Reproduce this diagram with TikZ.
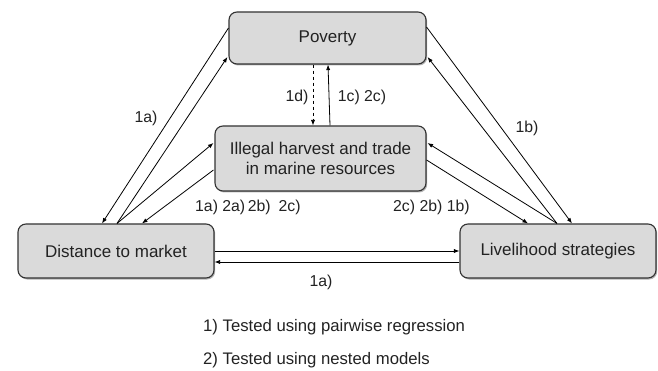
\documentclass[tikz,border=0pt]{standalone}
\usepackage{fontspec}
\setmainfont{Liberation Sans}
\usetikzlibrary{arrows.meta,calc,shadows}
\definecolor{boxfill}{HTML}{DADADA}
\definecolor{boxline}{HTML}{333333}
\definecolor{txt}{HTML}{222222}
\begin{document}
\begin{tikzpicture}[x=1pt,y=-1pt,
  box/.style={draw=boxline,line width=1.1pt,fill=boxfill,rounded corners=8pt,
    inner sep=0pt,align=center,text=txt,font=\fontsize{17}{19.5}\selectfont,
    drop shadow={shadow xshift=1.2pt,shadow yshift=-1.5pt,opacity=0.3,fill=black}},
  conn/.style={line width=0.8pt,-{Latex[length=5.5pt,width=4.2pt]}},
  lbl/.style={inner sep=0pt,text=txt,font=\fontsize{15.8}{18}\selectfont},
  leg/.style={inner sep=0pt,anchor=west,text=txt,font=\fontsize{16.7}{19}\selectfont}]
\useasboundingbox (0,0) rectangle (658,371);
\node[box,minimum width=197pt,minimum height=52pt] (pov) at (327.5,38) {Poverty};
\node[box,minimum width=211pt,minimum height=65pt] (ill) at (320.5,158.5) {Illegal harvest and trade\\in marine resources};
\node[box,minimum width=196pt,minimum height=54pt] (dist) at (116,251) {Distance to market};
\node[box,minimum width=196pt,minimum height=54pt] (liv) at (558,251) {Livelihood strategies};
% left side
\draw[conn] ($(pov.west)+(0,-10)$) -- ($(dist.north)+(-14,0)$);
\draw[conn] ($(dist.north)+(1,0)$) -- ($(pov.west)+(-1,19)$);
\draw[conn] ($(dist.north)+(1,0)$) -- ($(ill.west)+(-1,-15.5)$);
\draw[conn] ($(ill.west)+(-1,11.5)$) -- ($(dist.north)+(26,0)$);
% right side
\draw[conn] ($(pov.east)+(0,-11)$) -- ($(liv.north)+(14,0)$);
\draw[conn] ($(liv.north)+(-1,0)$) -- ($(pov.east)+(1,19)$);
\draw[conn] ($(liv.north)+(-1,0)$) -- ($(ill.east)+(1,-15.5)$);
\draw[conn] ($(ill.east)+(0,1.5)$) -- ($(liv.north)+(-30,0)$);
% vertical
\draw[conn,dashed] ($(pov.south)+(-14.5,0)$) -- ($(ill.north)+(-7.5,0)$);
\draw[conn] ($(ill.north)+(9.5,0)$) -- ($(pov.south)+(0.5,0)$);
% horizontal
\draw[conn] (dist.east) -- (liv.west);
\draw[conn] ($(liv.west)+(0,11)$) -- ($(dist.east)+(0,11)$);
% labels
\node[lbl] (l1a) at (146,118) {1a)};
\node[lbl] (l1b) at (527,128) {1b)};
\node[lbl] (l1d) at (297,97) {1d)};
\node[lbl] (l1c) at (362,97) {1c) 2c)};
\node[lbl,anchor=west] (lleft) at (195,207) {1a) 2a)\,2b)\enspace 2c)};
\node[lbl,anchor=west] (lright) at (393,207) {2c) 2b) 1b)};
\node[lbl] (lbot) at (321,282) {1a)};
\node[leg] (leg1) at (203,327) {1) Tested using pairwise regression};
\node[leg] (leg2) at (203,360) {2) Tested using nested models};
\end{tikzpicture}
\end{document}
